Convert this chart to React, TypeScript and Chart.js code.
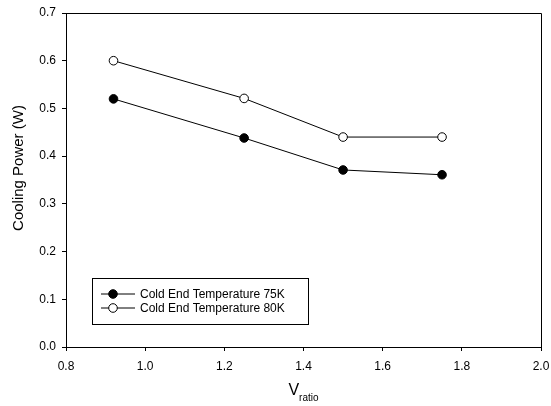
import React, { useEffect, useRef } from "react";
import { Chart, registerables } from "chart.js";

Chart.register(...registerables);

const vRatio = [0.92, 1.25, 1.5, 1.75];
const power75K = [0.52, 0.438, 0.371, 0.361];
const power80K = [0.6, 0.521, 0.44, 0.44];
const seriesNames = ["Cold End Temperature 75K", "Cold End Temperature 80K"];
const yTitle = "Cooling Power (W)";

const FONT = "'Liberation Sans', Arial, sans-serif";

const framePlugin = {
  id: "frameAndTitles",
  afterDraw(chart: any) {
    const { ctx, chartArea } = chart;
    const { left, right, top, bottom } = chartArea;
    ctx.save();
    ctx.strokeStyle = "#000";
    ctx.lineWidth = 1;
    ctx.beginPath();
    ctx.moveTo(left, top + 0.5);
    ctx.lineTo(right + 0.5, top + 0.5);
    ctx.lineTo(right + 0.5, bottom);
    ctx.stroke();

    // y title
    ctx.fillStyle = "#000";
    ctx.font = `15px ${FONT}`;
    ctx.textAlign = "center";
    ctx.textBaseline = "middle";
    ctx.translate(19, 168);
    ctx.rotate(-Math.PI / 2);
    ctx.fillText(yTitle, 0, 0);
    ctx.restore();

    // x title with subscript
    ctx.save();
    ctx.fillStyle = "#000";
    ctx.textBaseline = "alphabetic";
    ctx.textAlign = "left";
    ctx.font = `16px ${FONT}`;
    const vW = ctx.measureText("V").width;
    ctx.font = `10px ${FONT}`;
    const sW = ctx.measureText("ratio").width;
    const startX = (left + right) / 2 - (vW + sW) / 2;
    ctx.font = `16px ${FONT}`;
    ctx.fillText("V", startX, 395);
    ctx.font = `10px ${FONT}`;
    ctx.fillText("ratio", startX + vW, 401);
    ctx.restore();

    // legend box
    ctx.save();
    const bx = 92, by = 278, bw = 216, bh = 46;
    ctx.strokeStyle = "#000";
    ctx.lineWidth = 1;
    ctx.fillStyle = "#fff";
    ctx.fillRect(bx, by, bw, bh);
    ctx.strokeRect(bx + 0.5, by + 0.5, bw, bh);
    chart.data.datasets.forEach((ds: any, i: number) => {
      const y = 294 + i * 14;
      ctx.beginPath();
      ctx.strokeStyle = "#000";
      ctx.moveTo(101, y);
      ctx.lineTo(135, y);
      ctx.stroke();
      ctx.beginPath();
      ctx.arc(113, y, 4.3, 0, Math.PI * 2);
      ctx.fillStyle = ds.pointBackgroundColor;
      ctx.fill();
      ctx.stroke();
      ctx.fillStyle = "#000";
      ctx.font = `12px ${FONT}`;
      ctx.textAlign = "left";
      ctx.textBaseline = "middle";
      ctx.fillText(ds.label, 140, y + 0.5);
    });
    ctx.restore();
  },
};

export default function App() {
  const ref = useRef<HTMLCanvasElement>(null);
  useEffect(() => {
    document.body.style.margin = "0";
    const chart = new Chart(ref.current as HTMLCanvasElement, {
      type: "line",
      data: {
        datasets: [
          {
            label: seriesNames[0],
            data: vRatio.map((x, i) => ({ x, y: power75K[i] })),
            borderColor: "#000",
            borderWidth: 1,
            pointBackgroundColor: "#000",
            pointBorderColor: "#000",
            pointRadius: 4.3,
            pointBorderWidth: 1,
            tension: 0,
          },
          {
            label: seriesNames[1],
            data: vRatio.map((x, i) => ({ x, y: power80K[i] })),
            borderColor: "#000",
            borderWidth: 1,
            pointBackgroundColor: "#fff",
            pointBorderColor: "#000",
            pointRadius: 4.3,
            pointBorderWidth: 1,
            tension: 0,
          },
        ],
      },
      options: {
        animation: false,
        responsive: false,
        layout: { padding: { top: 13, right: 10, left: 0, bottom: 0 } },
        plugins: { legend: { display: false }, tooltip: { enabled: false } },
        scales: {
          x: {
            type: "linear",
            min: 0.8,
            max: 2.0,
            ticks: {
              stepSize: 0.2,
              color: "#000",
              font: { family: FONT, size: 12 },
              padding: 8,
              callback: (v: any) => Number(v).toFixed(1),
            },
            grid: { display: true, drawOnChartArea: false, drawTicks: true, tickLength: 4, color: "#000" },
            border: { display: true, color: "#000", width: 1 },
            afterFit: (s: any) => { s.height = 59; s.paddingRight = 0; s.paddingLeft = 0; },
          },
          y: {
            type: "linear",
            min: 0,
            max: 0.7,
            ticks: {
              stepSize: 0.1,
              color: "#000",
              font: { family: FONT, size: 12 },
              padding: 6,
              callback: (v: any) => Number(v).toFixed(1),
            },
            grid: { display: true, drawOnChartArea: false, drawTicks: true, tickLength: 4, color: "#000" },
            border: { display: true, color: "#000", width: 1 },
            afterFit: (s: any) => { s.width = 66; s.paddingTop = 0; s.paddingBottom = 0; },
          },
        },
      },
      plugins: [framePlugin],
    } as any);
    return () => chart.destroy();
  }, []);
  return <canvas ref={ref} width={551} height={406} style={{ display: "block" }} />;
}
